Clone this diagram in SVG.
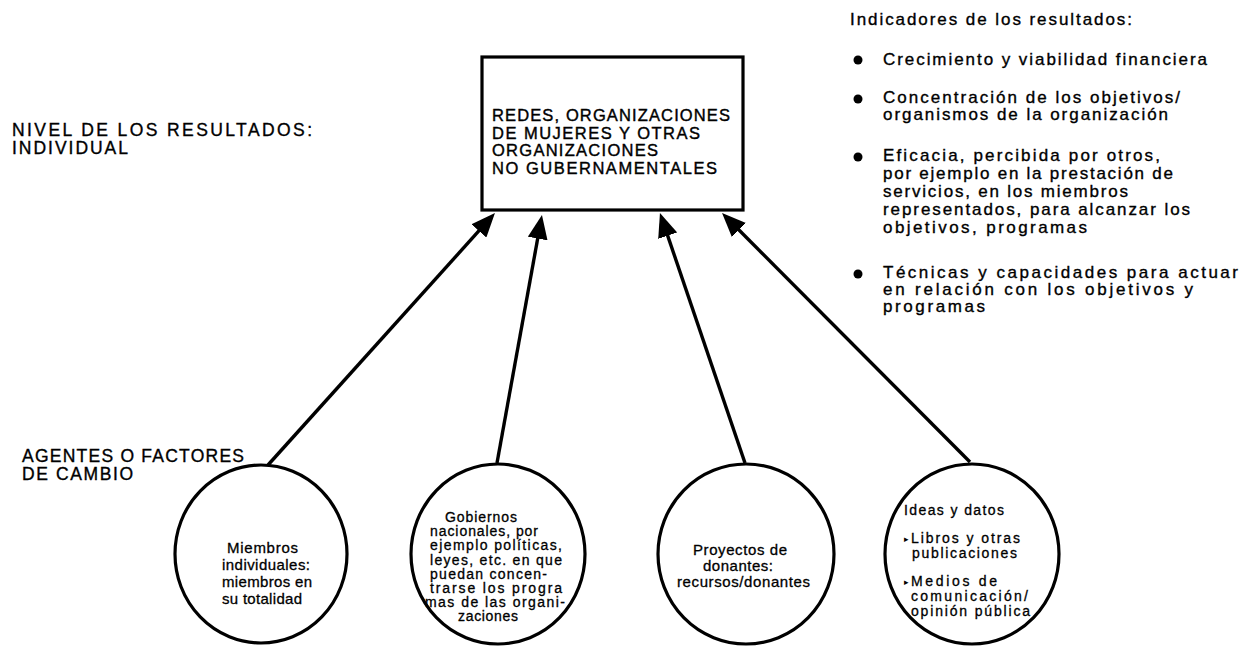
<svg xmlns="http://www.w3.org/2000/svg" width="1244" height="646" viewBox="0 0 1244 646">
<style>
text{font-family:"Liberation Sans",Arial,sans-serif;fill:#000;stroke:#000;stroke-width:0.35}
.lbl{font-size:17.5px}
.box{font-size:16.5px;stroke-width:0.4}
.ind{font-size:17px}
.ct{font-size:15px;stroke-width:0.3}
.c2{font-size:14px;stroke-width:0.3}
.c4{font-size:14px;stroke-width:0.3}
.tri{font-size:9px;stroke-width:0}
.shape{fill:#fff;stroke:#000;stroke-width:3.2}
.conn line{stroke:#000;stroke-width:3.4}
</style>
<defs>
<marker id="ah" viewBox="0 0 24 20" refX="13" refY="10" markerWidth="24" markerHeight="20" markerUnits="userSpaceOnUse" orient="auto">
<path d="M0,0 L24,10 L0,20 z" fill="#000"/>
</marker>
</defs>
<rect width="1244" height="646" fill="#fff" stroke="none"/>

<g id="label-nivel">
<text class="lbl" x="12" y="136" textLength="300" lengthAdjust="spacing">NIVEL DE LOS RESULTADOS:</text>
<text class="lbl" x="12" y="154" textLength="116" lengthAdjust="spacing">INDIVIDUAL</text>
</g>
<g id="label-agentes">
<text class="lbl" x="22" y="462" textLength="222" lengthAdjust="spacing">AGENTES O FACTORES</text>
<text class="lbl" x="22" y="480" textLength="111" lengthAdjust="spacing">DE CAMBIO</text>
</g>

<g id="node-redes">
<rect class="shape" x="482" y="57" width="261" height="153"/>
<text class="box" x="492" y="121" textLength="238" lengthAdjust="spacing">REDES, ORGANIZACIONES</text>
<text class="box" x="492" y="138.5" textLength="208" lengthAdjust="spacing">DE MUJERES Y OTRAS</text>
<text class="box" x="492" y="156" textLength="166" lengthAdjust="spacing">ORGANIZACIONES</text>
<text class="box" x="492" y="173.5" textLength="225" lengthAdjust="spacing">NO GUBERNAMENTALES</text>
</g>

<g id="indicadores">
<text class="ind" x="850" y="25" textLength="282" lengthAdjust="spacing">Indicadores de los resultados:</text>
<circle cx="858" cy="60" r="4.5"/>
<text class="ind" x="883" y="65" textLength="324" lengthAdjust="spacing">Crecimiento y viabilidad  financiera</text>
<circle cx="858" cy="99" r="4.5"/>
<text class="ind" x="883" y="103" textLength="297" lengthAdjust="spacing">Concentración de los objetivos/</text>
<text class="ind" x="883" y="120" textLength="285" lengthAdjust="spacing">organismos de la organización</text>
<circle cx="858" cy="157" r="4.5"/>
<text class="ind" x="883" y="161" textLength="277" lengthAdjust="spacing">Eficacia, percibida por otros,</text>
<text class="ind" x="883" y="179" textLength="290" lengthAdjust="spacing">por ejemplo en la prestación de</text>
<text class="ind" x="883" y="197" textLength="245" lengthAdjust="spacing">servicios, en los miembros</text>
<text class="ind" x="883" y="215" textLength="307" lengthAdjust="spacing">representados, para alcanzar los</text>
<text class="ind" x="883" y="233" textLength="204" lengthAdjust="spacing">objetivos, programas</text>
<circle cx="858" cy="274" r="4.5"/>
<text class="ind" x="883" y="278" textLength="355" lengthAdjust="spacing">Técnicas y capacidades para actuar</text>
<text class="ind" x="883" y="295" textLength="310" lengthAdjust="spacing">en relación con los objetivos y</text>
<text class="ind" x="883" y="312" textLength="102" lengthAdjust="spacing">programas</text>
</g>

<g id="node-miembros">
<ellipse class="shape" cx="261" cy="554" rx="86" ry="89"/>
<text class="ct" x="227" y="553" textLength="71" lengthAdjust="spacing">Miembros</text>
<text class="ct" x="222" y="570" textLength="88" lengthAdjust="spacing">individuales:</text>
<text class="ct" x="222" y="587" textLength="90" lengthAdjust="spacing">miembros en</text>
<text class="ct" x="222" y="604" textLength="80" lengthAdjust="spacing">su totalidad</text>
</g>

<g id="node-gobiernos">
<ellipse class="shape" cx="498" cy="554" rx="87" ry="90"/>
<text class="c2" x="445" y="522" textLength="72" lengthAdjust="spacing">Gobiernos</text>
<text class="c2" x="430" y="536" textLength="108" lengthAdjust="spacing">nacionales, por</text>
<text class="c2" x="430" y="550" textLength="132" lengthAdjust="spacing">ejemplo políticas,</text>
<text class="c2" x="430" y="565" textLength="132" lengthAdjust="spacing">leyes, etc. en que</text>
<text class="c2" x="430" y="579" textLength="117" lengthAdjust="spacing">puedan concen-</text>
<text class="c2" x="430" y="593" textLength="132" lengthAdjust="spacing">trarse los progra</text>
<text class="c2" x="425" y="607" textLength="140" lengthAdjust="spacing">mas de las organi-</text>
<text class="c2" x="458" y="621" textLength="60" lengthAdjust="spacing">zaciones</text>
</g>

<g id="node-proyectos">
<ellipse class="shape" cx="746" cy="554" rx="88" ry="90"/>
<text class="ct" x="693" y="555" textLength="94" lengthAdjust="spacing">Proyectos de</text>
<text class="ct" x="703" y="571" textLength="70" lengthAdjust="spacing">donantes:</text>
<text class="ct" x="677" y="587" textLength="133" lengthAdjust="spacing">recursos/donantes</text>
</g>

<g id="node-ideas">
<ellipse class="shape" cx="972" cy="554" rx="87" ry="90"/>
<text class="c4" x="904" y="515" textLength="100" lengthAdjust="spacing">Ideas y datos</text>
<text class="tri" x="904" y="542">▸</text>
<text class="c4" x="911" y="543" textLength="109" lengthAdjust="spacing">Libros y otras</text>
<text class="c4" x="912" y="558" textLength="105" lengthAdjust="spacing">publicaciones</text>
<text class="tri" x="904" y="585">▸</text>
<text class="c4" x="911" y="586" textLength="86" lengthAdjust="spacing">Medios de</text>
<text class="c4" x="911" y="601" textLength="117" lengthAdjust="spacing">comunicación/</text>
<text class="c4" x="911" y="615.5" textLength="119" lengthAdjust="spacing">opinión pública</text>
</g>

<g id="connectors" class="conn">
<line x1="268" y1="465" x2="487.6" y2="221.2" marker-end="url(#ah)"/>
<line x1="497" y1="463" x2="540" y2="225.8" marker-end="url(#ah)"/>
<line x1="745" y1="463" x2="663.5" y2="223.4" marker-end="url(#ah)"/>
<line x1="970" y1="462" x2="729.8" y2="220.8" marker-end="url(#ah)"/>
</g>
</svg>
